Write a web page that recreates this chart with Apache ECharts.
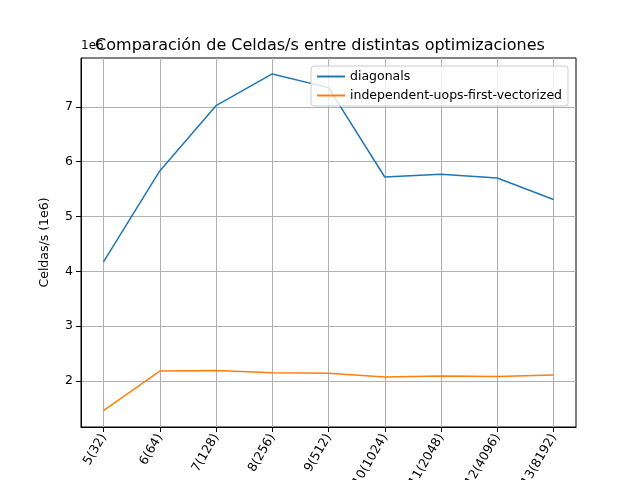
<!DOCTYPE html>
<html><head><meta charset="utf-8">
<script src="https://cdn.jsdelivr.net/npm/echarts@6/dist/echarts.min.js"></script>
</head><body style="margin:0">
<div id="main" style="width:640px;height:480px"></div>
<script>
var labels = ['5(32)', '6(64)', '7(128)', '8(256)', '9(512)', '10(1024)', '11(2048)', '12(4096)', '13(8192)'];
var diagonals = [4.17, 5.83, 7.02, 7.60, 7.35, 5.72, 5.77, 5.70, 5.31];
var independent = [1.46, 2.18, 2.19, 2.15, 2.14, 2.07, 2.09, 2.08, 2.11];
var idx = [0, 1, 2, 3, 4, 5, 6, 7, 8];

var chart = echarts.init(document.getElementById('main'));
var font = 'DejaVu Sans';
chart.setOption({
    animation: false,
    title: {
        text: 'Comparación de Celdas/s entre distintas optimizaciones',
        left: 'center', top: 33,
        textStyle: {fontFamily: font, fontSize: 16, fontWeight: 'normal', color: '#000'}
    },
    graphic: [{type: 'text', left: 81, top: 40,
        style: {text: '1e6', font: '12px DejaVu Sans', fill: '#000'}}],
    legend: {
        orient: 'vertical', right: 72, top: 66,
        backgroundColor: 'rgba(255,255,255,0.8)', borderColor: '#ccc', borderWidth: 1,
        borderRadius: 3, padding: [4, 6], itemGap: 6, itemWidth: 28, itemHeight: 2,
        icon: 'rect',
        textStyle: {fontFamily: font, fontSize: 12.5, color: '#000'},
        data: ['diagonals', 'independent-uops-first-vectorized']
    },
    grid: {left: 81, right: 64, top: 58, bottom: 53, outerBoundsMode: 'none',
        show: true, borderColor: '#000', borderWidth: 1},
    xAxis: {
        type: 'value', min: -0.4, max: 8.4,
        axisLine: {show: true, onZero: false, lineStyle: {color: '#000'}},
        axisTick: {show: true, customValues: idx, lineStyle: {color: '#000'}},
        axisLabel: {customValues: idx, rotate: 60, color: '#000', fontFamily: font, fontSize: 12.5,
            formatter: function (v) { return labels[Math.round(v)]; }},
        splitLine: {show: true, lineStyle: {color: '#b0b0b0'}}
    },
    yAxis: {
        type: 'value', min: 1.16, max: 7.89,
        name: 'Celdas/s (1e6)', nameLocation: 'middle', nameGap: 30,
        nameTextStyle: {fontFamily: font, fontSize: 12.5, color: '#000'},
        axisLine: {show: true, onZero: false, lineStyle: {color: '#000'}},
        axisTick: {show: true, customValues: [2, 3, 4, 5, 6, 7], lineStyle: {color: '#000'}},
        axisLabel: {customValues: [2, 3, 4, 5, 6, 7], color: '#000', fontFamily: font, fontSize: 12.5},
        splitLine: {show: true, lineStyle: {color: '#b0b0b0'}}
    },
    series: [
        {name: 'diagonals', type: 'line', showSymbol: false, color: '#1f77b4',
            lineStyle: {width: 1.5}, data: idx.map(function (i) { return [i, diagonals[i]]; })},
        {name: 'independent-uops-first-vectorized', type: 'line', showSymbol: false, color: '#ff7f0e',
            lineStyle: {width: 1.5}, data: idx.map(function (i) { return [i, independent[i]]; })}
    ]
});
</script>
</body></html>
